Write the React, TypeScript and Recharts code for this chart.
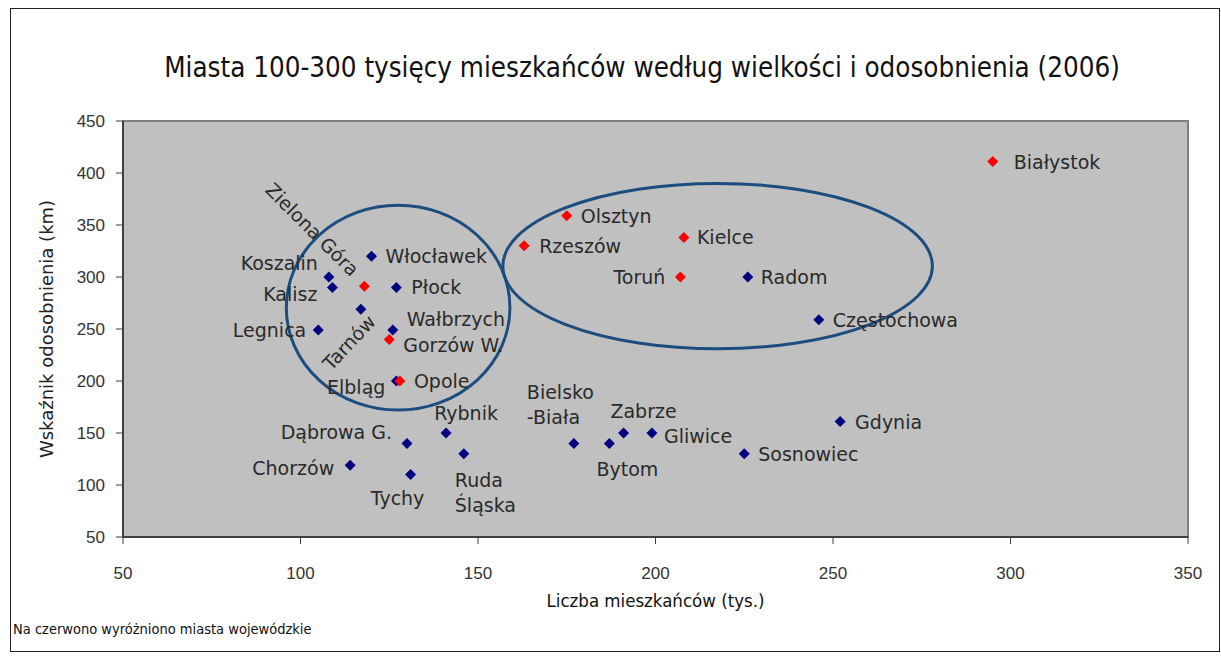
import { ScatterChart, Scatter, XAxis, YAxis, CartesianGrid, ReferenceArea, Label } from "recharts"

// cities with 100-300 thousand inhabitants, 2006
const cities = [
  "Koszalin", "Kalisz", "Włocławek", "Płock", "Tarnów", "Legnica", "Wałbrzych", "Elbląg",
  "Dąbrowa G.", "Rybnik", "Ruda Śląska", "Chorzów", "Tychy", "Bielsko-Biała", "Bytom",
  "Zabrze", "Gliwice", "Sosnowiec", "Gdynia", "Radom", "Częstochowa",
  "Białystok", "Olsztyn", "Rzeszów", "Kielce", "Toruń", "Zielona Góra", "Gorzów W.", "Opole",
]
const population = [
  108, 109, 120, 127, 117, 105, 126, 127,
  130, 141, 146, 114, 131, 177, 187,
  191, 199, 225, 252, 226, 246,
  295, 175, 163, 208, 207, 118, 125, 128,
]
const isolation = [
  300, 290, 320, 290, 269, 249, 249, 200,
  140, 150, 130, 119, 110, 140, 140,
  150, 150, 130, 161, 300, 259,
  411, 359, 330, 338, 300, 291, 240, 200,
]
// voivodeship capitals (drawn red)
const capitals = ["Białystok", "Olsztyn", "Rzeszów", "Kielce", "Toruń", "Zielona Góra", "Gorzów W.", "Opole"]

const xTicks = [50, 100, 150, 200, 250, 300, 350]
const yTicks = [50, 100, 150, 200, 250, 300, 350, 400, 450]

// hand drawn groupings: [x1, x2, y1, y2]
const groups = [
  [96, 159, 172, 369],
  [157, 278, 231, 390],
]

const points = cities.map((name, i) => ({ name, x: population[i], y: isolation[i] }))
const bluePts = points.filter((p) => !capitals.includes(p.name))
const redPts = points.filter((p) => capitals.includes(p.name))

type Place = { dx: number; dy: number; anchor?: string; angle?: number; lines?: string[] }
const place: Record<string, Place> = {
  "Białystok": { dx: 21, dy: 0 },
  "Olsztyn": { dx: 14, dy: 0 },
  "Rzeszów": { dx: 15, dy: 0 },
  "Kielce": { dx: 13, dy: 0 },
  "Toruń": { dx: -15, dy: 0, anchor: "end" },
  "Radom": { dx: 13, dy: 0 },
  "Częstochowa": { dx: 14, dy: 0 },
  "Gdynia": { dx: 15, dy: 0 },
  "Sosnowiec": { dx: 14, dy: 0 },
  "Gliwice": { dx: 12, dy: 3 },
  "Zabrze": { dx: 20, dy: -22, anchor: "middle" },
  "Bytom": { dx: 18, dy: 26, anchor: "middle" },
  "Bielsko-Biała": { dx: -47, dy: -51, lines: ["Bielsko", "-Biała"] },
  "Rybnik": { dx: 20, dy: -20, anchor: "middle" },
  "Ruda Śląska": { dx: -9, dy: 26, lines: ["Ruda", "Śląska"] },
  "Tychy": { dx: -13, dy: 23, anchor: "middle" },
  "Chorzów": { dx: -16, dy: 3, anchor: "end" },
  "Dąbrowa G.": { dx: -15, dy: -11, anchor: "end" },
  "Elbląg": { dx: -11, dy: 6, anchor: "end" },
  "Opole": { dx: 14, dy: 0 },
  "Gorzów W.": { dx: 14, dy: 6 },
  "Wałbrzych": { dx: 14, dy: -11 },
  "Płock": { dx: 15, dy: 0 },
  "Włocławek": { dx: 14, dy: 0 },
  "Koszalin": { dx: -11, dy: -14, anchor: "end" },
  "Kalisz": { dx: -15, dy: 7, anchor: "end" },
  "Legnica": { dx: -12, dy: 0, anchor: "end" },
  "Zielona Góra": { dx: -52, dy: -57, anchor: "middle", angle: 45 },
  "Tarnów": { dx: -12, dy: 33, anchor: "middle", angle: -47 },
}

const labelFont = "'DejaVu Sans', Verdana, sans-serif"
const narrowFont = "'DejaVu Sans Condensed', Tahoma, sans-serif"

const makeDiamond = (color: string) => (props: any) => {
  const { cx, cy, payload } = props
  const r = 5.5
  const p = place[payload.name] || { dx: 14, dy: 0 }
  const lines = p.lines || [payload.name]
  const x = cx + p.dx
  const y = cy + p.dy
  return (
    <g>
      <polygon points={`${cx},${cy - r} ${cx + r},${cy} ${cx},${cy + r} ${cx - r},${cy}`} fill={color} />
      <text
        x={x}
        y={y}
        textAnchor={p.anchor || "start"}
        dominantBaseline="central"
        fontSize={19}
        fontFamily={labelFont}
        fill="#2a2a2a"
        transform={p.angle ? `rotate(${p.angle} ${x} ${y})` : undefined}
      >
        {lines.map((l, i) => (
          <tspan key={i} x={x} dy={i === 0 ? 0 : 25}>{l}</tspan>
        ))}
      </text>
    </g>
  )
}

const EllipseShape = (props: any) => {
  const { x, y, width, height } = props
  return (
    <ellipse
      cx={x + width / 2}
      cy={y + height / 2}
      rx={width / 2}
      ry={height / 2}
      fill="none"
      stroke="#1b4d7e"
      strokeWidth={3}
    />
  )
}

const App = () => {
  return (
    <div style={{ position: "absolute", left: 0, top: 0, width: 1221, height: 659, background: "#fff" }}>
      <div style={{ position: "absolute", left: 10, top: 8, width: 1208, height: 642, border: "1px solid #222" }} />
      <div
        style={{
          position: "absolute", left: 642, top: 51, transform: "translateX(-50%)", whiteSpace: "nowrap",
          fontFamily: narrowFont, fontSize: 27.5, lineHeight: "32px", color: "#111",
        }}
      >
        Miasta 100-300 tysięcy mieszkańców według wielkości i odosobnienia (2006)
      </div>
      <div
        style={{
          position: "absolute", left: 13, top: 620, whiteSpace: "nowrap",
          fontFamily: narrowFont, fontSize: 14.5, lineHeight: "18px", color: "#111",
        }}
      >
        Na czerwono wyróżniono miasta wojewódzkie
      </div>
      <div style={{ position: "absolute", left: 0, top: 0 }}>
        <ScatterChart width={1221} height={659} margin={{ top: 121, right: 33, bottom: 42, left: 0 }}>
          <CartesianGrid fill="#c0c0c0" horizontal={false} vertical={false} />
          <ReferenceArea x1={50} x2={350} y1={50} y2={450} fill="none" stroke="#808080" strokeWidth={2} />
          <XAxis
            type="number"
            dataKey="x"
            domain={[50, 350]}
            ticks={xTicks}
            height={80}
            tickSize={7}
            tickMargin={23}
            tick={{ fontSize: 17, fill: "#333", fontFamily: "'Liberation Sans', Arial, sans-serif" }}
            axisLine={{ stroke: "#404040", strokeWidth: 2 }}
            tickLine={{ stroke: "#404040" }}
          >
            <Label
              value="Liczba mieszkańców (tys.)"
              position="insideBottom"
              offset={10}
              style={{ fontSize: 18.5, fill: "#111", fontFamily: narrowFont }}
            />
          </XAxis>
          <YAxis
            type="number"
            dataKey="y"
            domain={[50, 450]}
            ticks={yTicks}
            width={123}
            tickSize={7}
            tickMargin={11}
            tick={{ fontSize: 17, fill: "#333", fontFamily: "'Liberation Sans', Arial, sans-serif" }}
            axisLine={{ stroke: "#404040", strokeWidth: 2 }}
            tickLine={{ stroke: "#404040" }}
          >
            <Label
              value="Wskaźnik odosobnienia (km)"
              angle={-90}
              position="insideLeft"
              offset={47}
              style={{ textAnchor: "middle", fontSize: 18, fill: "#222", fontFamily: labelFont }}
            />
          </YAxis>
          <Scatter data={bluePts} shape={makeDiamond("#000080")} isAnimationActive={false} />
          <Scatter data={redPts} shape={makeDiamond("#ff0000")} isAnimationActive={false} />
          {groups.map((g, i) => (
            <ReferenceArea key={i} x1={g[0]} x2={g[1]} y1={g[2]} y2={g[3]} shape={EllipseShape} />
          ))}
        </ScatterChart>
      </div>
    </div>
  )
}

export default App
